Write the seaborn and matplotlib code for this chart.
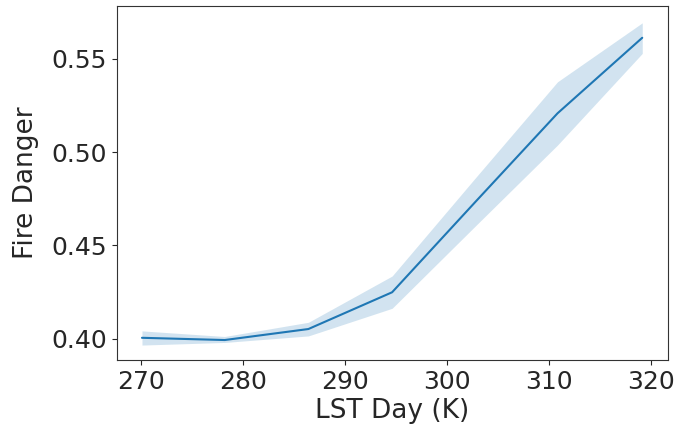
import matplotlib
matplotlib.use("Agg")
import matplotlib.pyplot as plt
import seaborn as sns
import pandas as pd

lst_day = [270.1, 278.2, 286.4, 294.6, 302.8, 310.8, 319.1]
fire_danger = [0.4005, 0.3993, 0.4052, 0.4249, 0.4736, 0.5208, 0.5613]
ci_low = [0.3966, 0.3980, 0.4015, 0.4163, 0.4607, 0.5038, 0.5529]
ci_high = [0.4042, 0.4012, 0.4088, 0.4336, 0.4865, 0.5377, 0.5693]

df = pd.DataFrame({"LST Day (K)": lst_day, "Fire Danger": fire_danger,
                   "lo": ci_low, "hi": ci_high})

sns.set_style("ticks")
plt.rcParams['font.family'] = ['DejaVu Sans']

fig = plt.figure(figsize=(6.8, 4.33), dpi=100)
ax = fig.add_axes([0.172, 0.1686, 0.810, 0.8174])
sns.lineplot(data=df, x="LST Day (K)", y="Fire Danger", color="#1f77b4",
             linewidth=1.5, ax=ax)
ax.fill_between(df["LST Day (K)"], df["lo"], df["hi"], color="#1f77b4",
                alpha=0.2, linewidth=0)
ax.set_xlim(267.65, 321.6)
ax.set_ylim(0.3886, 0.5783)
ax.set_xticks([270, 280, 290, 300, 310, 320])
ax.set_yticks([0.40, 0.45, 0.50, 0.55])
ax.tick_params(labelsize=18)
ax.set_xlabel("LST Day (K)", fontsize=19, labelpad=3)
ax.set_ylabel("Fire Danger", fontsize=19, labelpad=9)
for s in ax.spines.values():
    s.set_visible(True)
    s.set_color("#333333")
fig.savefig("out.png", dpi=100)
